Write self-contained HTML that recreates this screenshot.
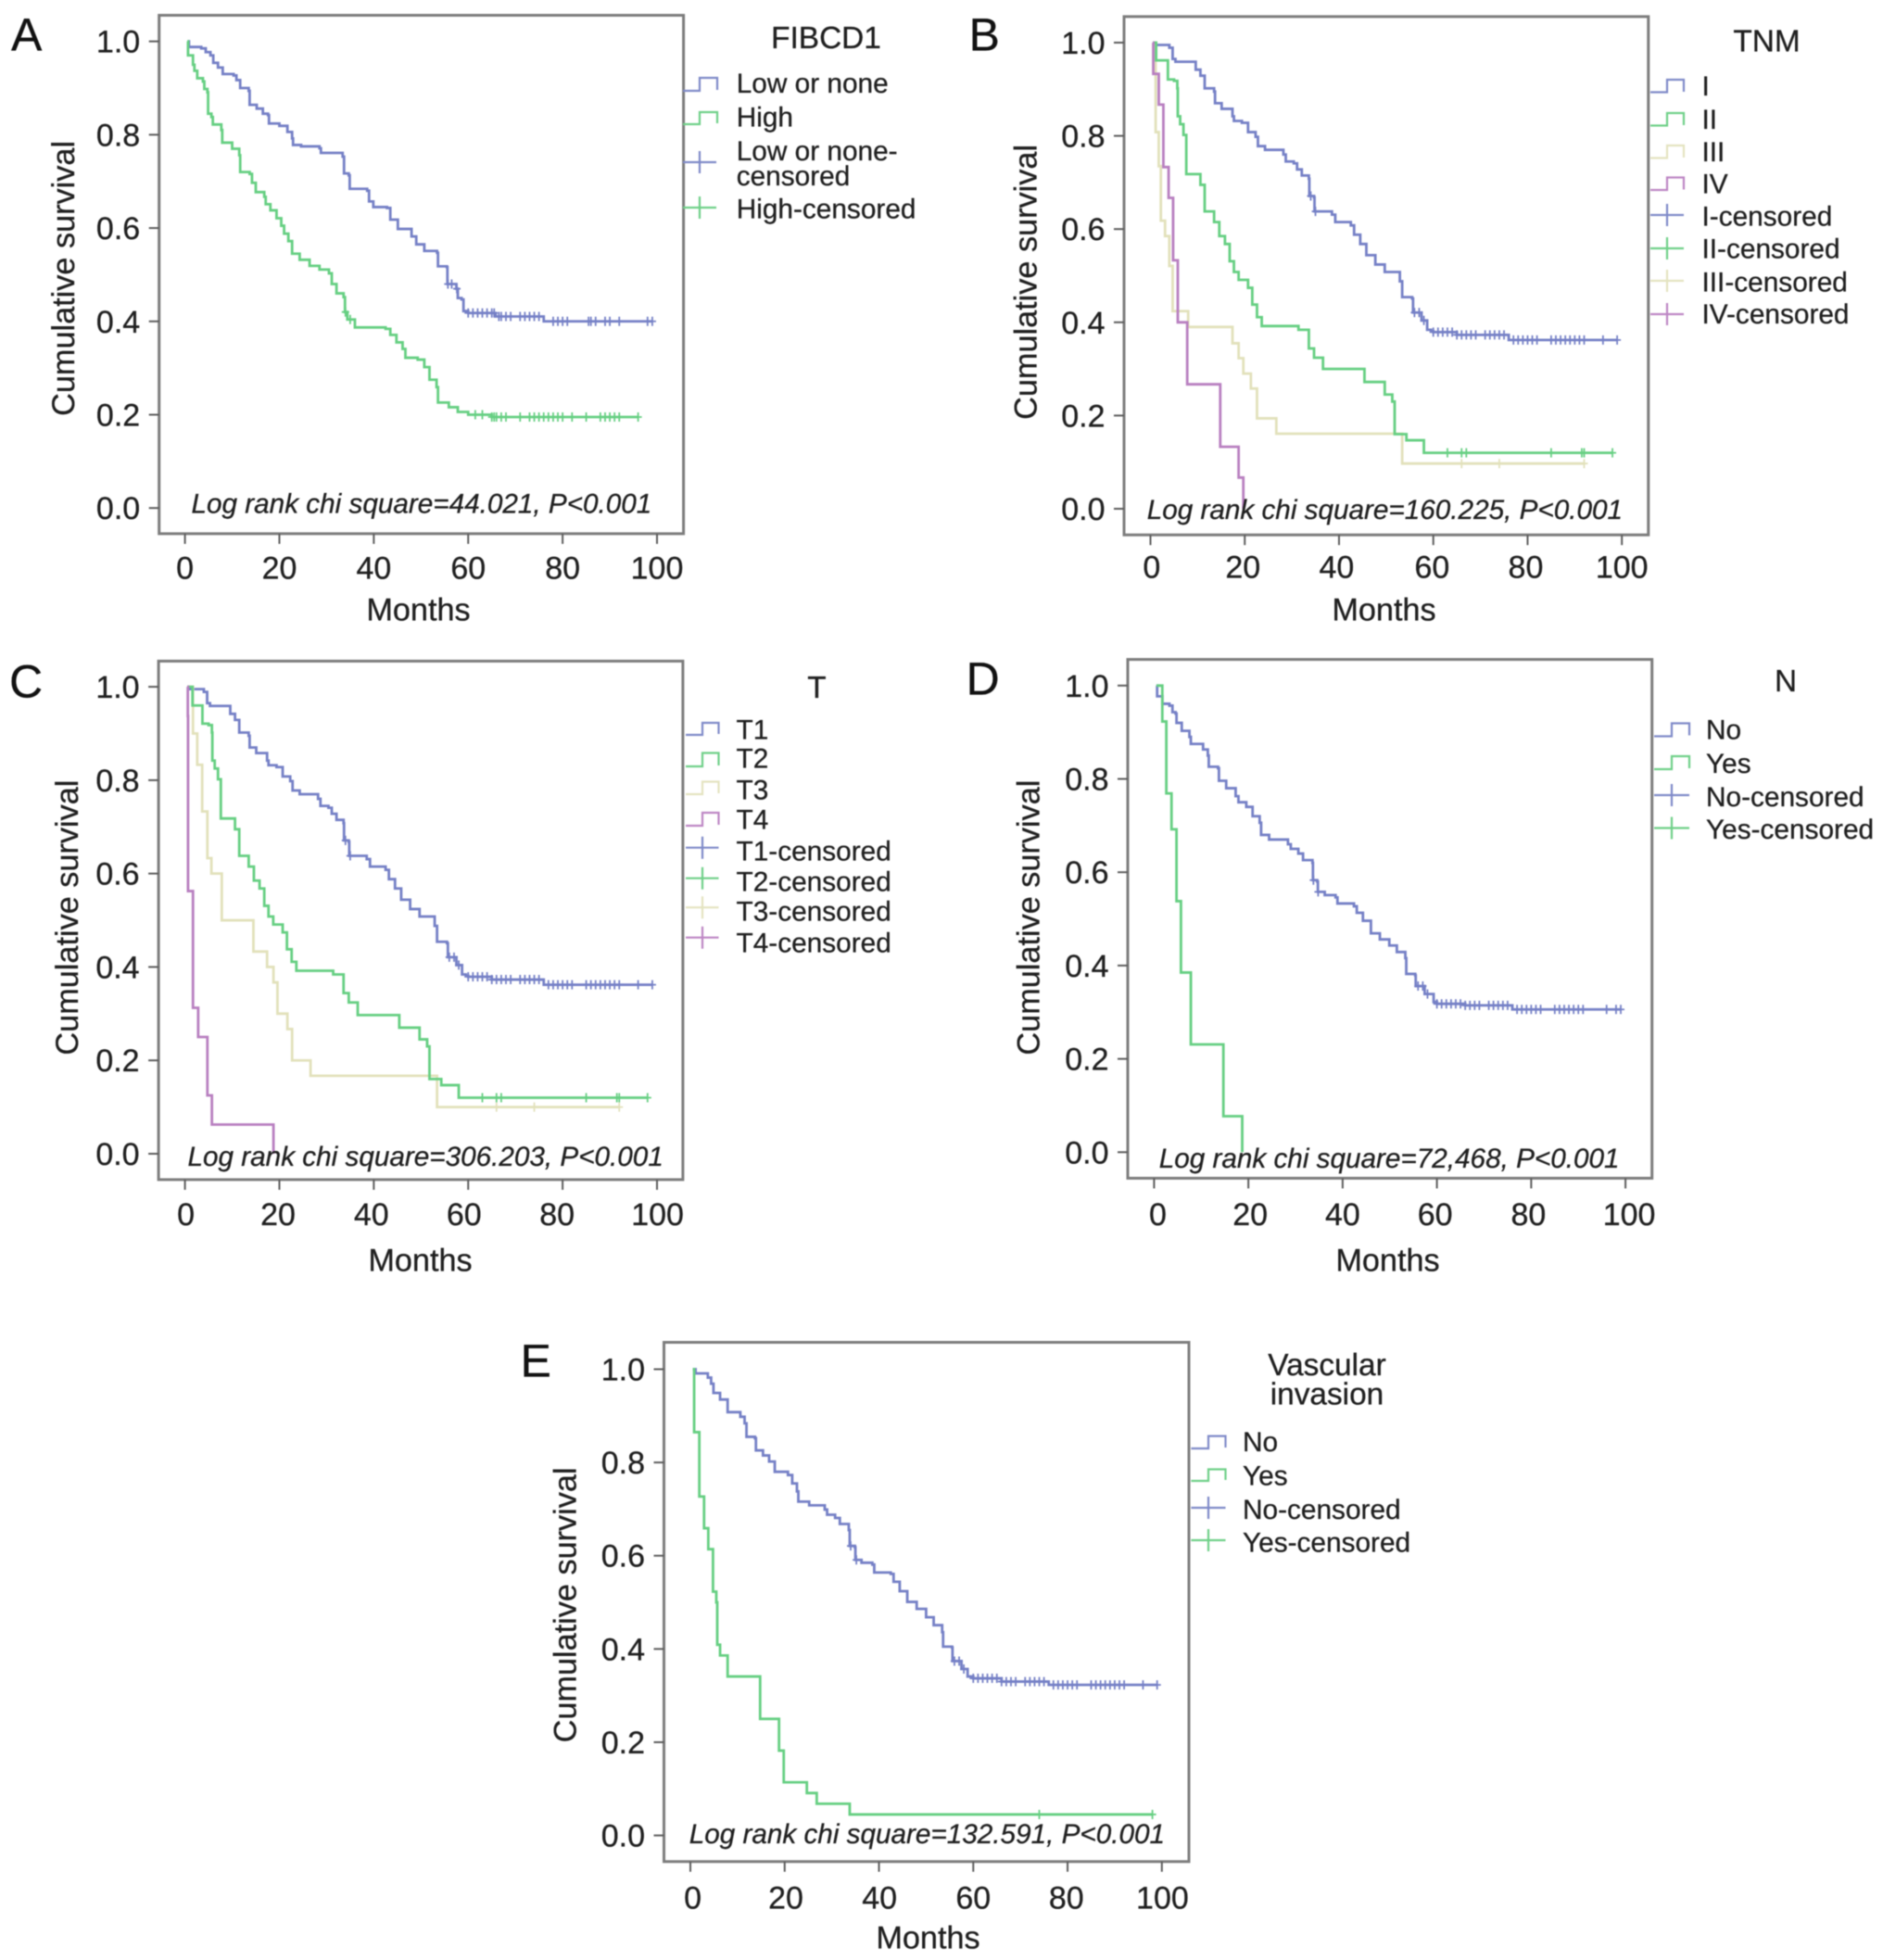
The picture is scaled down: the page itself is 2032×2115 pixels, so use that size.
<!DOCTYPE html>
<html lang="en">
<head>
<meta charset="utf-8">
<title>Kaplan-Meier survival curves</title>
<style>
html,body{margin:0;padding:0;background:#fff;}
svg{display:block;filter:blur(0.6px);}
text{font-family:"Liberation Sans",Arial,sans-serif;fill:#1f1f1f;stroke:#1f1f1f;stroke-width:.3px;text-rendering:geometricPrecision;}
.tick-label{font-size:34px;}
.axis-title{font-size:34.25px;}
.legend-title{font-size:33.4px;}
.legend-text{font-size:29.8px;}
.note{font-size:29.7px;font-style:italic;}
.letter{font-size:50px;fill:#111;stroke:#111;}
.frame{fill:none;stroke:#7c7c7c;stroke-width:3;}
.icon{fill:none;stroke-width:2.2;}
.blue{stroke:#7f8ac8;}
.green{stroke:#6fd088;}
.tan{stroke:#e4e3c0;}
.purple{stroke:#bd86c4;}
</style>
</head>
<body>
<svg id="figure" xmlns="http://www.w3.org/2000/svg" width="2032" height="2115" viewBox="0 0 2032 2115">
<rect x="0" y="0" width="2032" height="2115" fill="#fff"/>

<g>
  <text class="letter" x="12" y="54.5">A</text>
  <rect class="frame" x="171.7" y="16.5" width="565.9" height="559.4"/>
  <g id="marks-a"></g>
  <text class="axis-title" text-anchor="middle" transform="translate(80,300.4) rotate(-90)">Cumulative survival</text>
  <text class="axis-title" text-anchor="middle" x="451.5" y="669.5">Months</text>
  <text class="note" x="206.5" y="553.5">Log rank chi square=44.021, P&lt;0.001</text>
  <text class="legend-title" text-anchor="middle" x="891.5" y="52">FIBCD1</text>
  <path class="icon blue" d="M737 98H755V84H774V97"/>
  <path class="icon green" d="M737 134H755V121H774V133"/>
  <path class="icon blue" d="M737 175H773M755 163V187"/>
  <path class="icon green" d="M737 224H773M755 212V236"/>
  <text class="legend-text" x="794.7" y="100">Low or none</text>
  <text class="legend-text" x="794.7" y="136.5">High</text>
  <text class="legend-text" x="794.7" y="173">Low or none-</text>
  <text class="legend-text" x="794.7" y="200">censored</text>
  <text class="legend-text" x="794.7" y="235.5">High-censored</text>
</g>

<g>
  <text class="letter" x="1045.5" y="54.5">B</text>
  <rect class="frame" x="1213" y="17.9" width="565.8" height="559.3"/>
  <g id="marks-b"></g>
  <text class="axis-title" text-anchor="middle" transform="translate(1118.5,304.4) rotate(-90)">Cumulative survival</text>
  <text class="axis-title" text-anchor="middle" x="1493.5" y="669.5">Months</text>
  <text class="note" x="1237.7" y="560">Log rank chi square=160.225, P&lt;0.001</text>
  <text class="legend-title" text-anchor="middle" x="1906.5" y="55.5">TNM</text>
  <path class="icon blue" d="M1781 99.5H1799V86H1817V99"/>
  <path class="icon green" d="M1781 135.5H1799V122H1817V135"/>
  <path class="icon tan" d="M1781 170.5H1799V157H1817V170"/>
  <path class="icon purple" d="M1781 205H1799V191.5H1817V204.5"/>
  <path class="icon blue" d="M1781 232H1817M1799 220V244"/>
  <path class="icon green" d="M1781 268H1817M1799 256V280"/>
  <path class="icon tan" d="M1781 303H1817M1799 291V315"/>
  <path class="icon purple" d="M1781 339H1817M1799 327V351"/>
  <text class="legend-text" x="1836.5" y="103">I</text>
  <text class="legend-text" x="1836.5" y="139">II</text>
  <text class="legend-text" x="1836.5" y="174">III</text>
  <text class="legend-text" x="1836.5" y="208.5">IV</text>
  <text class="legend-text" x="1836.5" y="243.5">I-censored</text>
  <text class="legend-text" x="1836.5" y="278.5">II-censored</text>
  <text class="legend-text" x="1836.5" y="314.5">III-censored</text>
  <text class="legend-text" x="1836.5" y="349">IV-censored</text>
</g>

<g>
  <text class="letter" x="10" y="752.5">C</text>
  <rect class="frame" x="171.1" y="713.4" width="565.8" height="559.5"/>
  <g id="marks-c"></g>
  <text class="axis-title" text-anchor="middle" transform="translate(83.8,990.1) rotate(-90)">Cumulative survival</text>
  <text class="axis-title" text-anchor="middle" x="453.5" y="1371.5">Months</text>
  <text class="note" x="202.5" y="1258">Log rank chi square=306.203, P&lt;0.001</text>
  <text class="legend-title" text-anchor="middle" x="881.5" y="753">T</text>
  <path class="icon blue" d="M740 793H758V780H775.5V792"/>
  <path class="icon green" d="M740 827H758V812.5H775.5V826"/>
  <path class="icon tan" d="M740 857H758V843.5H775.5V856"/>
  <path class="icon purple" d="M740 891H758V877H775.5V890"/>
  <path class="icon blue" d="M740 914.7H775.5M758 902.7V926.7"/>
  <path class="icon green" d="M740 947.7H775.5M758 935.7V959.7"/>
  <path class="icon tan" d="M740 979.2H775.5M758 967.2V991.2"/>
  <path class="icon purple" d="M740 1011.7H775.5M758 999.7V1023.7"/>
  <text class="legend-text" x="794.5" y="797.4">T1</text>
  <text class="legend-text" x="794.5" y="828.7">T2</text>
  <text class="legend-text" x="794.5" y="862.7">T3</text>
  <text class="legend-text" x="794.5" y="894.5">T4</text>
  <text class="legend-text" x="794.5" y="928.7">T1-censored</text>
  <text class="legend-text" x="794.5" y="961.3">T2-censored</text>
  <text class="legend-text" x="794.5" y="993.7">T3-censored</text>
  <text class="legend-text" x="794.5" y="1027.7">T4-censored</text>
</g>

<g>
  <text class="letter" x="1042.5" y="749.5">D</text>
  <rect class="frame" x="1217" y="711.6" width="565.7" height="559.8"/>
  <g id="marks-d"></g>
  <text class="axis-title" text-anchor="middle" transform="translate(1121.5,990.1) rotate(-90)">Cumulative survival</text>
  <text class="axis-title" text-anchor="middle" x="1497.5" y="1371.5">Months</text>
  <text class="note" x="1250.7" y="1260">Log rank chi square=72,468, P&lt;0.001</text>
  <text class="legend-title" text-anchor="middle" x="1927" y="746">N</text>
  <path class="icon blue" d="M1785 794.5H1804V780.5H1823V793.5"/>
  <path class="icon green" d="M1785 830H1804V816H1823V829"/>
  <path class="icon blue" d="M1785 858H1823M1804 846V870"/>
  <path class="icon green" d="M1785 893.5H1823M1804 881.5V905.5"/>
  <text class="legend-text" x="1841" y="797.5">No</text>
  <text class="legend-text" x="1841" y="834">Yes</text>
  <text class="legend-text" x="1841" y="870">No-censored</text>
  <text class="legend-text" x="1841" y="905">Yes-censored</text>
</g>

<g>
  <text class="letter" x="561.5" y="1485.5">E</text>
  <rect class="frame" x="716.5" y="1448.5" width="566.5" height="560.3"/>
  <g id="marks-e"></g>
  <text class="axis-title" text-anchor="middle" transform="translate(621.5,1731.9) rotate(-90)">Cumulative survival</text>
  <text class="axis-title" text-anchor="middle" x="1001.5" y="2102.5">Months</text>
  <text class="note" x="743.7" y="1989">Log rank chi square=132.591, P&lt;0.001</text>
  <text class="legend-title" text-anchor="middle" x="1432" y="1484">Vascular</text>
  <text class="legend-title" text-anchor="middle" x="1432" y="1515.5">invasion</text>
  <path class="icon blue" d="M1285.4 1563H1304V1549.6H1322.5V1562"/>
  <path class="icon green" d="M1285.4 1598H1304V1585.5H1322.5V1597"/>
  <path class="icon blue" d="M1285.4 1627H1322.5M1304 1615V1639"/>
  <path class="icon green" d="M1285.4 1662H1322.5M1304 1650V1674"/>
  <text class="legend-text" x="1341" y="1566">No</text>
  <text class="legend-text" x="1341" y="1602.6">Yes</text>
  <text class="legend-text" x="1341" y="1639">No-censored</text>
  <text class="legend-text" x="1341" y="1674.4">Yes-censored</text>
</g>
</svg>

<script>
// ---------- Tick labels ----------
const monthTicks = [0, 20, 40, 60, 80, 100];
const survivalTicks = [0, 0.2, 0.4, 0.6, 0.8, 1];
const survivalTickLabels = ["0.0", "0.2", "0.4", "0.6", "0.8", "1.0"];

// ---------- Panel A: FIBCD1 ----------
const fibcdLowTimes = [.6,.85,3.45,4.4,5.4,6,7,8,10.3,10.9,11.7,13.5,13.7,15.2,16.5,17.6,17.8,20,21.7,22.7,22.9,24.6,28.5,28.8,33.4,33.7,34.7,34.9,38.6,39,39.9,42.8,43.5,45.1,48,49,50.7,53.4,53.6,55.5,55.6,57.5,57.8,58.6,59,60,65.8,76];
const fibcdLowSurvival = [1,.988,.985,.977,.97,.954,.944,.93,.927,.917,.9,.894,.864,.856,.845,.842,.824,.819,.806,.792,.778,.775,.771,.761,.753,.717,.713,.684,.68,.657,.645,.643,.618,.598,.582,.565,.551,.547,.518,.516,.48,.47,.45,.447,.422,.418,.4105,.4];
const fibcdLowCensored = [55.7,56.5,57.6,60,61,62,63,64,65,65.5,66.5,67,68,69,71,72,73,74,75,78,79,80,81,85.5,86,87,89,90,92,98,99];
const fibcdHighTimes = [.5,.65,1.7,2,2.6,3.8,4.1,4.75,4.9,5.6,5.9,7.7,7.9,10,11.5,11.7,13.7,14.2,15,16.8,17.1,18.1,19.4,20.4,21,21.9,22.7,24.3,26.4,28.5,30.5,31.1,32.1,33.6,33.9,34.4,36,42.5,43.5,44.8,46.1,46.7,49.3,50.7,51.8,53.3,53.6,55.9,57.8,60,65];
const fibcdHighSurvival = [1,.97,.95,.937,.921,.914,.898,.891,.845,.838,.822,.81,.783,.77,.756,.72,.716,.697,.677,.667,.651,.638,.621,.605,.588,.572,.545,.532,.519,.511,.503,.48,.46,.452,.42,.404,.387,.384,.371,.355,.341,.322,.318,.302,.275,.259,.226,.216,.206,.2,.195];
const fibcdHighCensored = [34,35,61.5,63,65,65.5,66,67,68,71,73,74,75,76,77,78,79,80,82,85,88,89,90,91,92,96];

// ---------- Panel B: TNM ----------
const tnm1Times = [.5,.8,4,4.7,5.3,9.6,10.6,11.5,13.5,13.7,15.1,17.4,17.7,19.4,20.7,22.3,22.8,24.3,28.2,28.7,30.4,31.1,32.1,33.6,33.7,34.7,34.8,38.5,39.2,42.5,43.2,44.5,45.8,47.7,49.7,52.9,53.4,55.5,55.7,57.5,58.7,59.5,60,65,76];
const tnm1Survival = [1,.995,.989,.965,.959,.942,.929,.902,.895,.87,.858,.842,.832,.828,.808,.798,.778,.77,.76,.745,.741,.728,.715,.708,.671,.668,.638,.631,.615,.608,.588,.568,.544,.524,.508,.488,.454,.451,.421,.404,.384,.381,.379,.373,.362];
const tnm1Censored = [34,35,56,57,58,60,61,62,63,64,65,66,67,68,69,71,72,73,74,75,77,78,79,80,81,82,85,86,87,88,89,90,91,92,96,99];
const tnm2Times = [.5,1.2,3.7,5,5.7,5.8,6.3,7,7.6,10.6,11.5,13.5,14.6,15.8,16.8,17.7,18.7,20.7,21.6,22.6,23.6,31.4,33.6,34.7,36.6,45.4,49.7,51.3,51.8,54.3,58];
const tnm2Survival = [1,.962,.921,.918,.902,.842,.825,.802,.718,.695,.638,.615,.585,.568,.531,.508,.491,.474,.438,.411,.392,.384,.344,.324,.3,.272,.245,.23,.16,.147,.12];
const tnm2Censored = [63,66,67,85,91.5,92,98];
const tnm3Times = [.5,1.1,1.76,2.2,3.1,4,4.7,8,17.4,18.7,19.7,21.3,22.6,26.7,53.4];
const tnm3Survival = [1,.808,.735,.618,.585,.521,.424,.39,.355,.323,.29,.258,.194,.161,.097];
const tnm3Censored = [66,74,92];
const tnm4Times = [.5,.6,1.76,2.74,3.85,4.8,5.8,7.8,14.8,18.7,19.7];
const tnm4Survival = [1,.933,.867,.733,.667,.533,.4,.267,.133,.067,0];
const tnm4Censored = [];

// ---------- Panel C: T ----------
const t1Times = [.5,.8,4,4.7,5.3,9.6,10.6,11.5,13.5,13.7,15.1,17.4,17.7,19.4,20.7,22.3,22.8,24.3,28.2,28.7,30.4,31.1,32.1,33.6,33.7,34.7,34.8,38.5,39.2,42.5,43.2,44.5,45.8,47.7,49.7,52.9,53.4,55.5,55.7,57.5,58.7,59.5,60,65,76];
const t1Survival = [1,.995,.989,.965,.959,.942,.929,.902,.895,.87,.858,.842,.832,.828,.808,.798,.778,.77,.76,.745,.741,.728,.715,.708,.671,.668,.638,.631,.615,.608,.588,.568,.544,.524,.508,.488,.454,.451,.421,.404,.384,.381,.379,.373,.362];
const t1Censored = [34,35,56,57,58,60,61,62,63,64,65,66,67,68,69,71,72,73,74,75,77,78,79,80,81,82,85,86,87,88,89,90,91,92,96,99];
const t2Times = [.5,1.6,3.7,5,5.7,5.8,6.3,7,7.6,10.6,11.5,13.5,14.6,15.8,16.8,17.7,18.7,20.7,21.6,22.6,23.6,31.4,33.6,34.7,36.6,45.4,49.7,51.3,51.8,54.3,58];
const t2Survival = [1,.96,.921,.918,.902,.842,.825,.802,.718,.695,.638,.615,.585,.568,.531,.508,.491,.474,.438,.411,.392,.384,.344,.324,.297,.27,.245,.23,.16,.147,.12];
const t2Censored = [63,66,67,85,91.5,92,98];
const t3Times = [.5,1.7,2.6,3.65,4.75,5.6,7.8,14.5,17.4,18.75,19.6,21.7,22.7,26.6,53.4];
const t3Survival = [1,.9,.833,.733,.633,.6,.5,.433,.4,.367,.3,.267,.2,.167,.1];
const t3Censored = [66,74,92];
const t4Times = [.5,.6,.65,1.7,2.8,4.75,5.7,18.75];
const t4Survival = [1,.9375,.5625,.3125,.25,.125,.0625,0];
const t4Censored = [];

// ---------- Panel D: N ----------
const nNoTimes = [.5,.65,1.76,3.26,3.9,4.56,4.76,5.87,7.5,7.8,10.4,11.4,11.6,13.56,13.76,15.3,17.3,17.9,19.56,20.9,22.4,22.7,24.4,28.4,29,30.6,31.6,33.6,33.7,34.6,34.75,36.2,38.5,38.9,42.4,43,44.3,46,47.9,49.9,51.5,53.3,53.5,55.4,55.5,57.4,59.3,60,66,76];
const nNoSurvival = [1,.977,.961,.957,.943,.94,.92,.903,.89,.875,.863,.85,.826,.823,.796,.78,.763,.75,.74,.72,.706,.68,.67,.66,.65,.64,.626,.62,.583,.58,.558,.551,.546,.533,.527,.513,.496,.469,.456,.443,.429,.416,.382,.379,.356,.339,.322,.318,.3147,.306];
const nNoCensored = [33.8,34.8,56,57,58,60,61,62,63,64,65,66,67,68,69,71,72,73,74,75,77,78,79,80,81,82,85,86,87,88,89,90,91,96,98,99];
const nYesTimes = [.5,1.75,2.6,3.7,4.76,5.7,7.8,14.7,18.7];
const nYesSurvival = [1,.923,.769,.692,.538,.385,.231,.077,0];
const nYesCensored = [];

// ---------- Panel E: Vascular invasion ----------
const viNoTimes = [.5,1.1,3.7,4.4,4.9,6.3,7.9,10.6,11.5,11.9,13.7,13.9,15.4,16.7,17.9,20.7,21.6,22.6,22.9,25.2,28.5,29,30.7,31.7,33.6,33.8,34.9,35,36.3,38.6,39,42.5,43.1,44.4,46,48,50,51.6,53.4,53.6,55.5,55.6,57.5,58.8,60,66,76];
const viNoSurvival = [1,.991,.982,.969,.949,.935,.908,.898,.884,.855,.852,.826,.815,.802,.78,.773,.755,.738,.716,.708,.699,.688,.681,.668,.655,.621,.618,.591,.585,.581,.564,.561,.544,.524,.501,.486,.468,.451,.436,.405,.403,.374,.357,.341,.337,.33,.323];
const viNoCensored = [34,35.2,56,57,58,60,61,62,63,64,65,66,67,68,69,71,72,73,74,75,77,78,79,80,81,82,85,86,87,88,89,90,91,92,96,99];
const viYesTimes = [.5,.8,1.9,2.9,3.8,4.8,5.5,5.7,6.3,7.9,14.8,18.8,19.8,24.7,26.8,33.8];
const viYesSurvival = [1,.865,.727,.659,.614,.523,.5,.409,.386,.341,.25,.182,.114,.091,.068,.045];
const viYesCensored = [74,98];

// ---------- Drawing ----------
const SVG_NS = "http://www.w3.org/2000/svg";
const SERIES_STROKES = {blue:"#7580c6", green:"#66cf82", tan:"#e2e1bb", purple:"#b87fc0"};

function makeXScale(x0, x100) {
  return function (months) { return x0 + (x100 - x0) * months / 100; };
}
function makeYScale(y0, y1) {
  return function (survival) { return y0 + (y1 - y0) * survival; };
}
function survivalAt(times, values, month) {
  let current = values[0];
  for (let i = 0; i < times.length; i++) {
    if (times[i] <= month) current = values[i];
  }
  return current;
}

function drawAxes(group, frame, xScale, yScale, xLabelBaseline, labelNudges) {
  monthTicks.forEach(function (m, i) {
    const tick = document.createElementNS(SVG_NS, "line");
    
    
    tick.setAttribute("x1", xScale(m));
    tick.setAttribute("x2", xScale(m));
    tick.setAttribute("y1", frame.bottom);
    tick.setAttribute("y2", frame.bottom + 11);
    tick.setAttribute("stroke", "#5c5c5c");
    tick.setAttribute("stroke-width", "2");
    group.appendChild(tick);
    const label = document.createElementNS(SVG_NS, "text");
    
    
    label.setAttribute("class", "tick-label");
    label.setAttribute("text-anchor", "middle");
    label.setAttribute("x", xScale(m) + labelNudges[i]);
    label.setAttribute("y", xLabelBaseline);
    label.textContent = String(m);
    group.appendChild(label);
  });
  survivalTicks.forEach(function (s, i) {
    const tick = document.createElementNS(SVG_NS, "line");
    
    
    tick.setAttribute("x1", frame.left - 11);
    tick.setAttribute("x2", frame.left);
    tick.setAttribute("y1", yScale(s));
    tick.setAttribute("y2", yScale(s));
    tick.setAttribute("stroke", "#5c5c5c");
    tick.setAttribute("stroke-width", "2");
    group.appendChild(tick);
    const label = document.createElementNS(SVG_NS, "text");
    
    
    label.setAttribute("class", "tick-label");
    label.setAttribute("text-anchor", "end");
    label.setAttribute("x", frame.left - 20.5);
    label.setAttribute("y", yScale(s) + 12);
    label.textContent = survivalTickLabels[i];
    group.appendChild(label);
  });
}

function drawSeries(group, times, values, censored, color, xScale, yScale) {
  let d = "M" + xScale(times[0]).toFixed(2) + " " + yScale(values[0]).toFixed(2);
  for (let i = 1; i < times.length; i++) {
    d += "H" + xScale(times[i]).toFixed(2) + "V" + yScale(values[i]).toFixed(2);
  }
  if (censored.length) {
    const lastCensor = censored[censored.length - 1];
    if (lastCensor > times[times.length - 1]) d += "H" + xScale(lastCensor).toFixed(2);
  }
  const curve = document.createElementNS(SVG_NS, "path");
  
  
  curve.setAttribute("d", d);
  curve.setAttribute("fill", "none");
  curve.setAttribute("stroke", SERIES_STROKES[color]);
  curve.setAttribute("stroke-width", "2.8");
  group.appendChild(curve);
  censored.forEach(function (month) {
    const cx = xScale(month);
    const cy = yScale(survivalAt(times, values, month));
    const mark = document.createElementNS(SVG_NS, "path");
    
    
    mark.setAttribute("d", "M" + (cx - 4).toFixed(2) + " " + cy.toFixed(2) + "H" + (cx + 4).toFixed(2) + "M" + cx.toFixed(2) + " " + (cy - 5).toFixed(2) + "V" + (cy + 5).toFixed(2));
    mark.setAttribute("fill", "none");
    mark.setAttribute("stroke", SERIES_STROKES[color]);
    mark.setAttribute("stroke-width", "1.8");
    group.appendChild(mark);
  });
}

function drawPanel(id, frame, x0, x100, y0, y1, xLabelBaseline, labelNudges, seriesList) {
  const group = document.getElementById(id);
  const xScale = makeXScale(x0, x100);
  const yScale = makeYScale(y0, y1);
  drawAxes(group, frame, xScale, yScale, xLabelBaseline, labelNudges);
  seriesList.forEach(function (s) {
    drawSeries(group, s[0], s[1], s[2], s[3], xScale, yScale);
  });
}

drawPanel("marks-a", {left:171.7, bottom:575.9}, 199.6, 709, 548.2, 44.66, 624.5, [0,0,0,0,0,0], [
  [fibcdLowTimes, fibcdLowSurvival, fibcdLowCensored, "blue"],
  [fibcdHighTimes, fibcdHighSurvival, fibcdHighCensored, "green"]
]);
drawPanel("marks-b", {left:1213, bottom:577.2}, 1241.5, 1750.2, 549, 46, 623.5, [1.3,-2,-2.6,-1.3,-2,0], [
  [tnm1Times, tnm1Survival, tnm1Censored, "blue"],
  [tnm3Times, tnm3Survival, tnm3Censored, "tan"],
  [tnm2Times, tnm2Survival, tnm2Censored, "green"],
  [tnm4Times, tnm4Survival, tnm4Censored, "purple"]
]);
drawPanel("marks-c", {left:171.1, bottom:1272.9}, 199.6, 709, 1245, 741.1, 1322, [1,-1.5,-2.6,-4.5,-6,.6], [
  [t1Times, t1Survival, t1Censored, "blue"],
  [t3Times, t3Survival, t3Censored, "tan"],
  [t2Times, t2Survival, t2Censored, "green"],
  [t4Times, t4Survival, t4Censored, "purple"]
]);
drawPanel("marks-d", {left:1217, bottom:1271.4}, 1245.4, 1754.1, 1243.3, 739.8, 1322, [4,2,0,-2,-3,4], [
  [nNoTimes, nNoSurvival, nNoCensored, "blue"],
  [nYesTimes, nYesSurvival, nYesCensored, "green"]
]);
drawPanel("marks-e", {left:716.5, bottom:2008.8}, 745, 1253.8, 1980.6, 1477.5, 2059.5, [2.6,1.3,.6,0,-1.3,.6], [
  [viNoTimes, viNoSurvival, viNoCensored, "blue"],
  [viYesTimes, viYesSurvival, viYesCensored, "green"]
]);
</script>
</body>
</html>
